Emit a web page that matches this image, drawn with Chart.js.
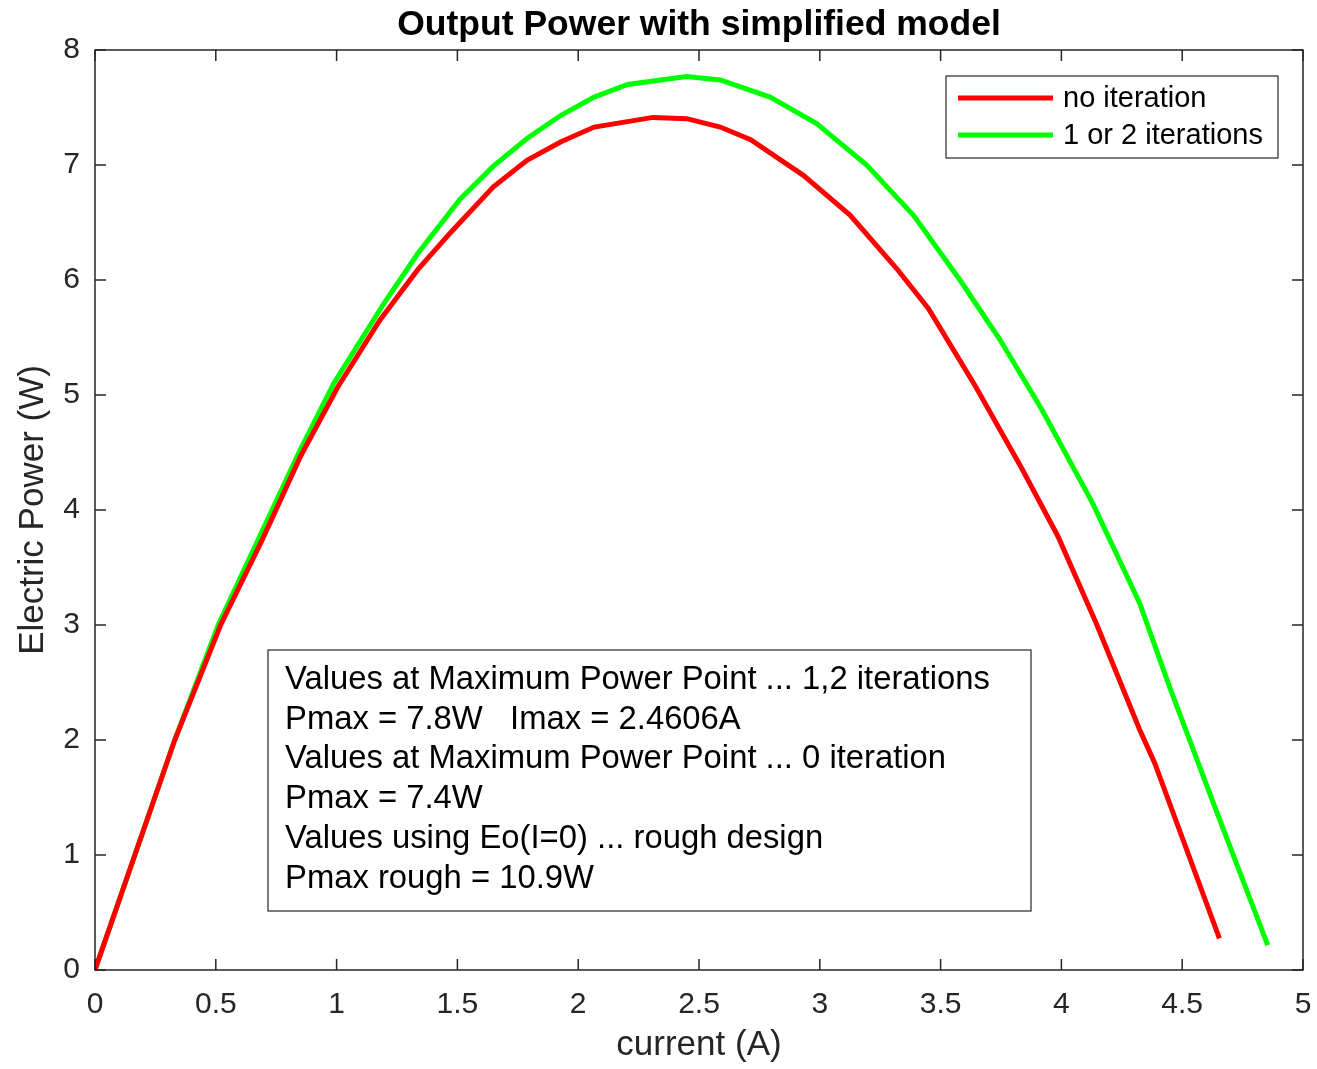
<!DOCTYPE html>
<html>
<head>
<meta charset="utf-8">
<title>Output Power with simplified model</title>
<script src="https://cdn.jsdelivr.net/npm/chart.js@4.4.1/dist/chart.umd.min.js"></script>
<style>
    body { margin: 0; background: #fff; }
    #wrap { width: 1317px; height: 1069px; position: relative; }
</style>
</head>
<body>
<div id="wrap"><canvas id="powerChart"></canvas></div>
<script>
// donnees
const xTickValues = [0, 0.5, 1, 1.5, 2, 2.5, 3, 3.5, 4, 4.5, 5];
const yTickValues = [0, 1, 2, 3, 4, 5, 6, 7, 8];

const seriesLabels = ['no iteration', '1 or 2 iterations'];

// no iteration
const redCurrent = [0, 0.33, 0.52, 0.692, 0.849, 1.005, 1.179, 1.336, 1.475, 1.649, 1.788, 1.927, 2.066, 2.31, 2.449, 2.588, 2.714, 2.932, 3.125, 3.318, 3.45, 3.646, 3.839, 3.986, 4.145, 4.324, 4.386, 4.654];
const redPower = [0, 2.0, 3.0, 3.74, 4.46, 5.07, 5.65, 6.09, 6.42, 6.81, 7.04, 7.20, 7.33, 7.414, 7.403, 7.33, 7.22, 6.91, 6.565, 6.10, 5.75, 5.07, 4.35, 3.77, 3.01, 2.09, 1.80, 0.275];

// 1 or 2 iterations
const greenCurrent = [0, 0.33, 0.51, 0.675, 0.849, 0.988, 1.197, 1.336, 1.51, 1.649, 1.788, 1.927, 2.066, 2.205, 2.31, 2.449, 2.588, 2.794, 2.987, 3.194, 3.387, 3.58, 3.746, 3.92, 4.129, 4.324, 4.448, 4.64, 4.854];
const greenPower = [0, 2.0, 3.0, 3.74, 4.52, 5.10, 5.80, 6.23, 6.70, 6.99, 7.23, 7.43, 7.59, 7.70, 7.73, 7.77, 7.74, 7.59, 7.36, 7.0, 6.565, 6.0, 5.48, 4.87, 4.06, 3.19, 2.46, 1.39, 0.217];

const infoLines = [
    'Values at Maximum Power Point ... 1,2 iterations',
    'Pmax = 7.8W   Imax = 2.4606A',
    'Values at Maximum Power Point ... 0 iteration',
    'Pmax = 7.4W',
    'Values using Eo(I=0) ... rough design',
    'Pmax rough = 10.9W'
];

const AXIS_COLOR = '#262626';
const FONT = '"Liberation Sans", Arial, Helvetica, sans-serif';

function toPoints(xs, ys) {
    return xs.map((x, i) => ({ x: x, y: ys[i] }));
}

// boite, graduations interieures, legende et zone de texte facon MATLAB
const matlabDecor = {
    id: 'matlabDecor',
    afterDatasetsDraw(chart) {
        const { ctx, chartArea: a, scales } = chart;
        const tick = 11;
        ctx.save();
        ctx.strokeStyle = AXIS_COLOR;
        ctx.lineWidth = 1.5;
        ctx.strokeRect(a.left, a.top, a.right - a.left, a.bottom - a.top);
        ctx.beginPath();
        xTickValues.forEach(v => {
            const px = scales.x.getPixelForValue(v);
            ctx.moveTo(px, a.bottom); ctx.lineTo(px, a.bottom - tick);
            ctx.moveTo(px, a.top); ctx.lineTo(px, a.top + tick);
        });
        yTickValues.forEach(v => {
            const py = scales.y.getPixelForValue(v);
            ctx.moveTo(a.left, py); ctx.lineTo(a.left + tick, py);
            ctx.moveTo(a.right, py); ctx.lineTo(a.right - tick, py);
        });
        ctx.stroke();

        // legende
        const lg = { x: a.left + 851, y: a.top + 26, w: 332, h: 82 };
        ctx.fillStyle = '#fff';
        ctx.fillRect(lg.x, lg.y, lg.w, lg.h);
        ctx.strokeStyle = AXIS_COLOR;
        ctx.lineWidth = 1.2;
        ctx.strokeRect(lg.x, lg.y, lg.w, lg.h);
        ctx.font = '29px ' + FONT;
        ctx.textBaseline = 'middle';
        ctx.textAlign = 'left';
        chart.data.datasets.forEach((ds, i) => {
            const yy = lg.y + 22 + i * 37;
            ctx.strokeStyle = ds.borderColor;
            ctx.lineWidth = 5;
            ctx.beginPath();
            ctx.moveTo(lg.x + 12, yy);
            ctx.lineTo(lg.x + 107, yy);
            ctx.stroke();
            ctx.fillStyle = '#000';
            ctx.fillText(ds.label, lg.x + 117, yy + 1);
        });

        // zone de texte
        const tb = { x: a.left + 173, y: a.top + 600, w: 763, h: 261 };
        ctx.fillStyle = '#fff';
        ctx.fillRect(tb.x, tb.y, tb.w, tb.h);
        ctx.strokeStyle = AXIS_COLOR;
        ctx.lineWidth = 1.2;
        ctx.strokeRect(tb.x, tb.y, tb.w, tb.h);
        ctx.fillStyle = '#000';
        ctx.font = '32.8px ' + FONT;
        infoLines.forEach((line, i) => {
            ctx.fillText(line, tb.x + 17, tb.y + 30 + i * 39.7);
        });
        ctx.restore();
    }
};

const ctx = document.getElementById('powerChart').getContext('2d');
new Chart(ctx, {
    type: 'scatter',
    data: {
        datasets: [
            {
                label: seriesLabels[0],
                data: toPoints(redCurrent, redPower),
                showLine: true,
                borderColor: '#ff0000',
                borderWidth: 5,
                pointRadius: 0,
                tension: 0
            },
            {
                label: seriesLabels[1],
                data: toPoints(greenCurrent, greenPower),
                showLine: true,
                borderColor: '#00ff00',
                borderWidth: 5,
                pointRadius: 0,
                tension: 0
            }
        ]
    },
    options: {
        responsive: true,
        maintainAspectRatio: false,
        animation: false,
        layout: { padding: { left: 0, right: 14, top: 0, bottom: 0 } },
        plugins: {
            legend: { display: false },
            tooltip: { enabled: false },
            title: {
                display: true,
                text: 'Output Power with simplified model',
                fullSize: false,
                color: '#000',
                font: { family: FONT, size: 35.5, weight: 'bold', lineHeight: 1.2 },
                padding: { top: 4, bottom: 3.4 }
            }
        },
        scales: {
            x: {
                type: 'linear',
                min: 0,
                max: 5,
                afterBuildTicks: scale => { scale.ticks = xTickValues.map(v => ({ value: v })); },
                afterFit: scale => {
                    scale.height = 99;
                    scale.paddingLeft = 0;
                    scale.paddingRight = 0;
                },
                grid: { display: true, drawOnChartArea: false, drawTicks: false },
                border: { display: false },
                ticks: {
                    color: AXIS_COLOR,
                    padding: 17,
                    maxRotation: 0,
                    font: { family: FONT, size: 30 },
                    callback: v => String(v)
                },
                title: {
                    display: true,
                    text: 'current (A)',
                    color: AXIS_COLOR,
                    font: { family: FONT, size: 35, lineHeight: 1.2 },
                    padding: { top: 0, bottom: 3 }
                }
            },
            y: {
                type: 'linear',
                min: 0,
                max: 8,
                afterBuildTicks: scale => { scale.ticks = yTickValues.map(v => ({ value: v })); },
                afterFit: scale => {
                    scale.width = 95;
                    scale.paddingTop = 0;
                    scale.paddingBottom = 0;
                },
                grid: { display: true, drawOnChartArea: false, drawTicks: false },
                border: { display: false },
                ticks: {
                    color: AXIS_COLOR,
                    padding: 15,
                    font: { family: FONT, size: 30 },
                    callback: v => String(v)
                },
                title: {
                    display: true,
                    text: 'Electric Power (W)',
                    color: AXIS_COLOR,
                    font: { family: FONT, size: 35, lineHeight: 1.2 },
                    padding: { top: 12, bottom: 0 }
                }
            }
        }
    },
    plugins: [matlabDecor]
});
</script>
</body>
</html>
